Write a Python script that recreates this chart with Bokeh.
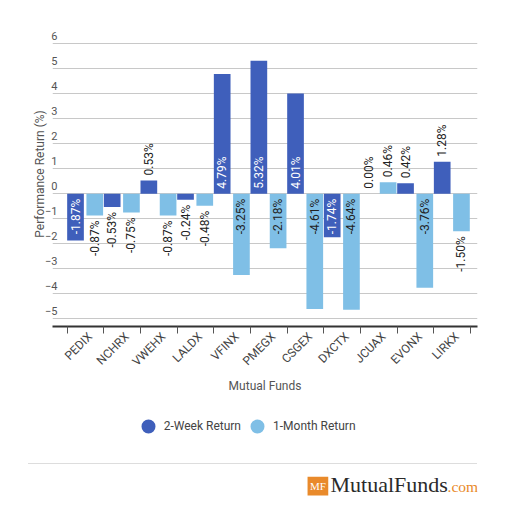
import numpy as np
from bokeh.plotting import figure
from bokeh.models import (Range1d, LinearAxis, FixedTicker, Grid, ColumnDataSource,
                          Legend, LegendItem, CustomJSTickFormatter, Div)
from bokeh.layouts import column
from bokeh.transform import dodge
from bokeh.embed import file_html
from bokeh.resources import INLINE
from bokeh.core.properties import value

# ---------------- data ----------------
funds = ["PEDIX", "NCHRX", "VWEHX", "LALDX", "VFINX", "PMEGX",
         "CSGEX", "DXCTX", "JCUAX", "EVONX", "LIRKX"]
two_week = [-1.87, -0.53, 0.53, -0.24, 4.79, 5.32, 4.01, -1.74, 0.00, 0.42, 1.28]
one_month = [-0.87, -0.75, -0.87, -0.48, -3.25, -2.18, -4.61, -4.64, 0.46, -3.76, -1.50]
y_ticks = [-5, -4, -3, -2, -1, 0, 1, 2, 3, 4, 5, 6]
series_names = ["2-Week Return", "1-Month Return"]

# ---------------- style ----------------
DARK = "#3f5fbb"
LIGHT = "#7fbfe6"
ORANGE = "#e98a2b"
FONT = "Roboto"
n = len(funds)
W = 489
H_TOP = 410
H_LEG = 53
H_LOGO = 32
FL, FR = 52, 12          # frame borders (left / right)

p = figure(frame_width=W - FL - FR, frame_height=305, output_backend="svg",
           toolbar_location=None,
           x_range=Range1d(-0.40, 11.19), y_range=Range1d(-5.31, 6.89),
           x_axis_type=None, y_axis_type=None,
           min_border_left=FL, min_border_right=FR, min_border_top=21,
           min_border_bottom=H_TOP - 21 - 305)
p.outline_line_color = None
p.background_fill_color = "white"

p.add_layout(Grid(dimension=1, ticker=FixedTicker(ticks=y_ticks),
                  grid_line_color="#c8c8c8", grid_line_width=1))

# bottom axis: tick marks at category boundaries
ax_ticks = LinearAxis(ticker=FixedTicker(ticks=list(range(n + 1)), minor_ticks=[]),
                      formatter=CustomJSTickFormatter(code="return ''"),
                      major_label_text_font_size="1px", major_label_standoff=0,
                      major_tick_out=7, major_tick_in=0,
                      axis_line_color="#333333", axis_line_width=2,
                      major_tick_line_color="#555555", major_tick_line_width=1,
                      minor_tick_line_color=None)
p.add_layout(ax_ticks, "below")

# bottom axis: category names at centres (range nudged so text ends right of centre)
p.extra_x_ranges = {"xlab": Range1d(-0.40 - 0.13, 11.19 - 0.13)}
centers = [i + 0.5 for i in range(n)]
ax_lab = LinearAxis(x_range_name="xlab",
                    ticker=FixedTicker(ticks=centers, minor_ticks=[]),
                    formatter=CustomJSTickFormatter(args=dict(names=funds),
                                                    code="return names[Math.floor(tick)] || ''"),
                    major_label_orientation=np.pi / 4,
                    major_label_text_font=FONT, major_label_text_font_size="12px",
                    major_label_text_color="#444444", major_label_standoff=1,
                    axis_line_color=None, major_tick_line_color=None, minor_tick_line_color=None,
                    major_tick_out=0, major_tick_in=0,
                    axis_label="Mutual Funds", axis_label_text_font=FONT,
                    axis_label_text_font_size="12px", axis_label_text_font_style="normal",
                    axis_label_text_color="#555555", axis_label_standoff=2)
p.add_layout(ax_lab, "below")

# left axis: labels sit just above the gridlines (shifted range)
p.extra_y_ranges = {"ylab": Range1d(-5.31 - 0.32, 6.89 - 0.32)}
ax_y = LinearAxis(y_range_name="ylab", ticker=FixedTicker(ticks=y_ticks, minor_ticks=[]),
                  axis_line_color=None, major_tick_line_color=None, minor_tick_line_color=None,
                  major_tick_out=0, major_tick_in=0, major_label_standoff=-5,
                  major_label_text_font=FONT, major_label_text_font_size="11px",
                  major_label_text_color="#555555",
                  axis_label="Performance Return (%)", axis_label_text_font=FONT,
                  axis_label_text_font_size="12px", axis_label_text_font_style="normal",
                  axis_label_text_color="#555555", axis_label_standoff=-5)
p.add_layout(ax_y, "left")


def make_source(vals, inside_color):
    ys, aligns, offs, cols, texts = [], [], [], [], []
    for v in vals:
        inside = abs(v) > 1.6
        pos = v >= 0
        ys.append(0.0 if inside else v)
        aligns.append("left" if pos else "right")
        offs.append(-5 if pos else 5)
        cols.append(inside_color if inside else "#222222")
        texts.append(f"{v:.2f}%")
    return ColumnDataSource(dict(x=list(range(n)), top=vals, ly=ys, align=aligns,
                                 yoff=offs, tcol=cols, txt=texts))


src_w = make_source(two_week, "white")
src_m = make_source(one_month, "#222222")

BW = 0.455
p.vbar(x=dodge("x", 0.2275), top="top", bottom=0, width=BW, source=src_w,
       fill_color=DARK, line_color=None)
p.vbar(x=dodge("x", 0.7525), top="top", bottom=0, width=BW, source=src_m,
       fill_color=LIGHT, line_color=None)

for src, off in ((src_w, 0.2275), (src_m, 0.7525)):
    p.text(x=dodge("x", off), y="ly", text="txt", source=src, angle=np.pi / 2,
           text_align="align", text_baseline="middle", y_offset="yoff",
           text_color="tcol", text_font=value(FONT), text_font_size="12px")

# ---------------- legend strip ----------------
q1 = figure(width=W, height=H_LEG, output_backend="svg", toolbar_location=None,
            x_range=Range1d(FL, W - FR), y_range=Range1d(H_LEG, 0),
            x_axis_type=None, y_axis_type=None,
            min_border_left=FL, min_border_right=FR, min_border_top=0, min_border_bottom=0)
q1.outline_line_color = None
q1.grid.visible = False
holder = ColumnDataSource(dict(x=[np.nan], y=[np.nan]))   # legend-only placeholders
g1 = q1.scatter(x="x", y="y", source=holder, marker="circle", size=8,
                fill_color=DARK, line_color=DARK, line_width=6)
g2 = q1.scatter(x="x", y="y", source=holder, marker="circle", size=8,
                fill_color=LIGHT, line_color=LIGHT, line_width=6)
legend = Legend(items=[LegendItem(label=series_names[0], renderers=[g1]),
                       LegendItem(label=series_names[1], renderers=[g2])],
                orientation="horizontal", location=(85.7, H_LEG - 25.7),
                label_text_font=FONT, label_text_font_size="12px",
                label_text_color="#444444", border_line_color=None,
                background_fill_alpha=0, padding=0, spacing=6, label_standoff=6,
                glyph_width=20, glyph_height=20, margin=0)
q1.add_layout(legend)

# ---------------- separator ----------------
sep = Div(text="", width=449, height=1, margin=(0, 0, 0, 28),
          styles={"background-color": "#dddddd"})

# ---------------- logo ----------------
q2 = figure(width=W, height=H_LOGO, output_backend="svg", toolbar_location=None,
            x_range=Range1d(FL, W - FR), y_range=Range1d(H_LOGO, 0),
            x_axis_type=None, y_axis_type=None,
            min_border_left=FL, min_border_right=FR, min_border_top=0, min_border_bottom=0)
q2.outline_line_color = None
q2.grid.visible = False
q2.rect(x=[317.4], y=[21.7], width=20.7, height=18.7, fill_color=ORANGE, line_color=None)
q2.text(x=[317.4], y=[21.4], text=["MF"], text_align="center", text_baseline="middle",
        text_color="white", text_font=value("Liberation Serif"), text_font_size="11px")
q2.text(x=[330], y=[19.6], text=["MutualFunds"], text_align="left", text_baseline="middle",
        text_color="#2a2a2a", text_font=value("Liberation Serif"), text_font_size="22px")
q2.text(x=[447], y=[21.8], text=[".com"], text_align="left", text_baseline="middle",
        text_color=ORANGE, text_font=value("Liberation Serif"), text_font_size="15.5px")

open("out.html", "w").write(file_html(column(p, q1, sep, q2), INLINE))
